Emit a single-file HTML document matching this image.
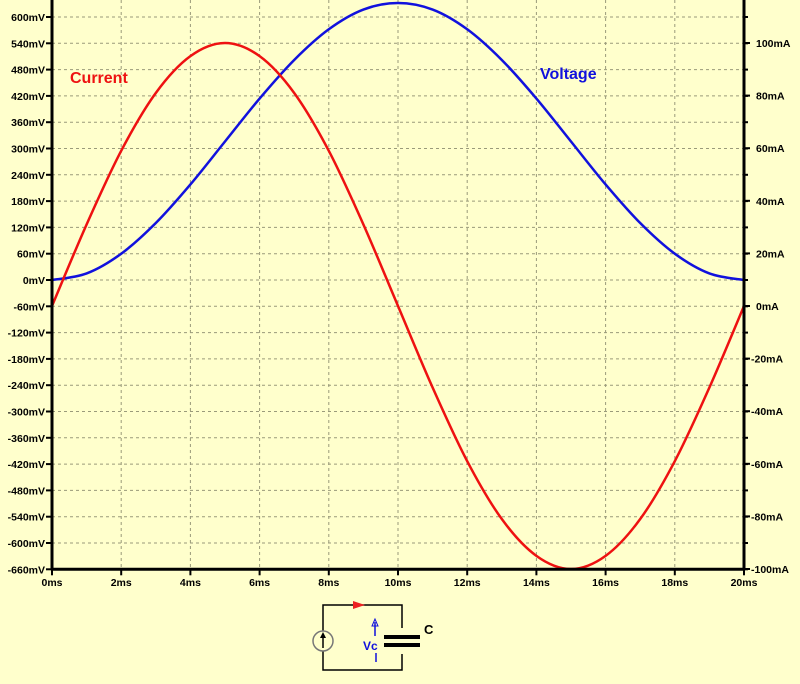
<!DOCTYPE html>
<html><head><meta charset="utf-8"><style>
html,body{margin:0;padding:0;background:#ffffcc;}
svg{display:block;font-family:"Liberation Sans",Arial,sans-serif;}
</style></head><body>
<svg id="chart" width="800" height="684" viewBox="0 0 800 684" xmlns="http://www.w3.org/2000/svg">
<rect x="0" y="0" width="800" height="684" fill="#ffffcc"/>
<g id="grid"></g>
<g id="series"></g>
<g id="axes"></g>
<text x="70" y="83" fill="#ee1111" font-size="16" font-weight="bold">Current</text>
<text x="540" y="79" fill="#1111dd" font-size="16" font-weight="bold">Voltage</text>
<g>
  <rect x="323" y="605" width="79" height="65" fill="none" stroke="#000" stroke-width="1.5"/>
  <circle cx="323" cy="641" r="10" fill="#ffffcc" stroke="#777" stroke-width="1.5"/>
  <line x1="323" y1="648" x2="323" y2="635" stroke="#000" stroke-width="1.5"/>
  <polygon points="323,632 320,638 326,638" fill="#000"/>
  <polygon points="353,601 365,605 353,609" fill="#ee2222"/>
  <rect x="384" y="628" width="36" height="26" fill="#ffffcc"/>
  <rect x="384" y="635" width="36" height="4" fill="#000"/>
  <rect x="384" y="643" width="36" height="4" fill="#000"/>
  <text x="424" y="634" font-size="13" font-weight="bold" fill="#000">C</text>
  <line x1="375" y1="636" x2="375" y2="622" stroke="#1111dd" stroke-width="1.5"/>
  <polygon points="375,619 372,626 378,626" fill="none" stroke="#1111dd"/>
  <text x="363" y="650" font-size="12" font-weight="bold" fill="#1111dd">Vc</text>
  <line x1="376" y1="653" x2="376" y2="662" stroke="#1111dd" stroke-width="1.5"/>
</g>
</svg>
<script>
const timeMs=[0,1,2,3,4,5,6,7,8,9,10,11,12,13,14,15,16,17,18,19,20];
const voltageMv=[0,15,60,130,218,316,414,502,572,617,632,617,572,502,414,316,218,130,60,15,0];
const currentMa=[0,31,59,81,95,100,95,81,59,31,0,-31,-59,-81,-95,-100,-95,-81,-59,-31,0];
const xTicks=[0,2,4,6,8,10,12,14,16,18,20];
const leftTicks=[600,540,480,420,360,300,240,180,120,60,0,-60,-120,-180,-240,-300,-360,-420,-480,-540,-600,-660];
const rightTicks=[100,80,60,40,20,0,-20,-40,-60,-80,-100];
const X0=52,X1=744,Y0mv=280,pxPerMv=26.3/60,Y0ma=306,pxPerMa=526/200;
const xs=t=>X0+(t/20)*(X1-X0);
const yL=v=>Y0mv-v*pxPerMv;
const yR=a=>Y0ma-a*pxPerMa;
const NS="http://www.w3.org/2000/svg";
function mk(tag,attrs,parent){const e=document.createElementNS(NS,tag);for(const k in attrs)e.setAttribute(k,attrs[k]);parent.appendChild(e);return e;}
const grid=document.getElementById('grid'),axes=document.getElementById('axes'),series=document.getElementById('series');
leftTicks.forEach(v=>{const y=yL(v);
 if(v!==-660){const g=mk('line',{x1:X0,x2:X1,y1:y,y2:y,stroke:'#9a9a7a',"stroke-dasharray":'3,3'},grid);
 
 }
 mk('line',{x1:X0-6,x2:X0,y1:y,y2:y,stroke:'#000','stroke-width':2},axes);
 mk('line',{x1:X1,x2:X1+4,y1:y,y2:y,stroke:'#000','stroke-width':2},axes);
 const t=mk('text',{x:X0-7,y:y+4,'text-anchor':'end','font-size':10.5,'font-weight':'bold'},axes);t.textContent=v+'mV';
 
 
});
rightTicks.forEach(a=>{const y=yR(a);
 mk('line',{x1:X1,x2:X1+6,y1:y,y2:y,stroke:'#000','stroke-width':2},axes);
 const t=mk('text',{x:X1+(a<0?7:12),y:y+4,'font-size':10.5,'font-weight':'bold'},axes);t.textContent=a+'mA';
 
 
});
xTicks.forEach(tm=>{const x=xs(tm);
 if(tm>0&&tm<20){const g=mk('line',{x1:x,x2:x,y1:0,y2:yL(-660),stroke:'#9a9a7a',"stroke-dasharray":'3,3'},grid);
 
 }
 mk('line',{x1:x,x2:x,y1:yL(-660),y2:yL(-660)+6,stroke:'#000','stroke-width':2},axes);
 const t=mk('text',{x:x,y:586,'text-anchor':'middle','font-size':10.5,'font-weight':'bold'},axes);t.textContent=tm+'ms';
 
 
});
mk('line',{x1:X0,x2:X0,y1:0,y2:yL(-660)+1,stroke:'#000','stroke-width':3},axes);
mk('line',{x1:X1,x2:X1,y1:0,y2:yL(-660)+1,stroke:'#000','stroke-width':3},axes);
mk('line',{x1:X0,x2:X1,y1:yL(-660),y2:yL(-660),stroke:'#000','stroke-width':3},axes);
function smooth(pts){let d='M'+pts[0][0]+','+pts[0][1];
 for(let i=0;i<pts.length-1;i++){const p0=pts[Math.max(0,i-1)],p1=pts[i],p2=pts[i+1],p3=pts[Math.min(pts.length-1,i+2)];
 d+=' C'+(p1[0]+(p2[0]-p0[0])/6)+','+(p1[1]+(p2[1]-p0[1])/6)+' '+(p2[0]-(p3[0]-p1[0])/6)+','+(p2[1]-(p3[1]-p1[1])/6)+' '+p2[0]+','+p2[1];}
 return d;}
const vp=mk('path',{d:smooth(timeMs.map((t,i)=>[xs(t),yL(voltageMv[i])])),fill:'none',stroke:'#1111dd','stroke-width':2.5},series);


const cp=mk('path',{d:smooth(timeMs.map((t,i)=>[xs(t),yR(currentMa[i])])),fill:'none',stroke:'#ee1111','stroke-width':2.5},series);


</script>
</body></html>
